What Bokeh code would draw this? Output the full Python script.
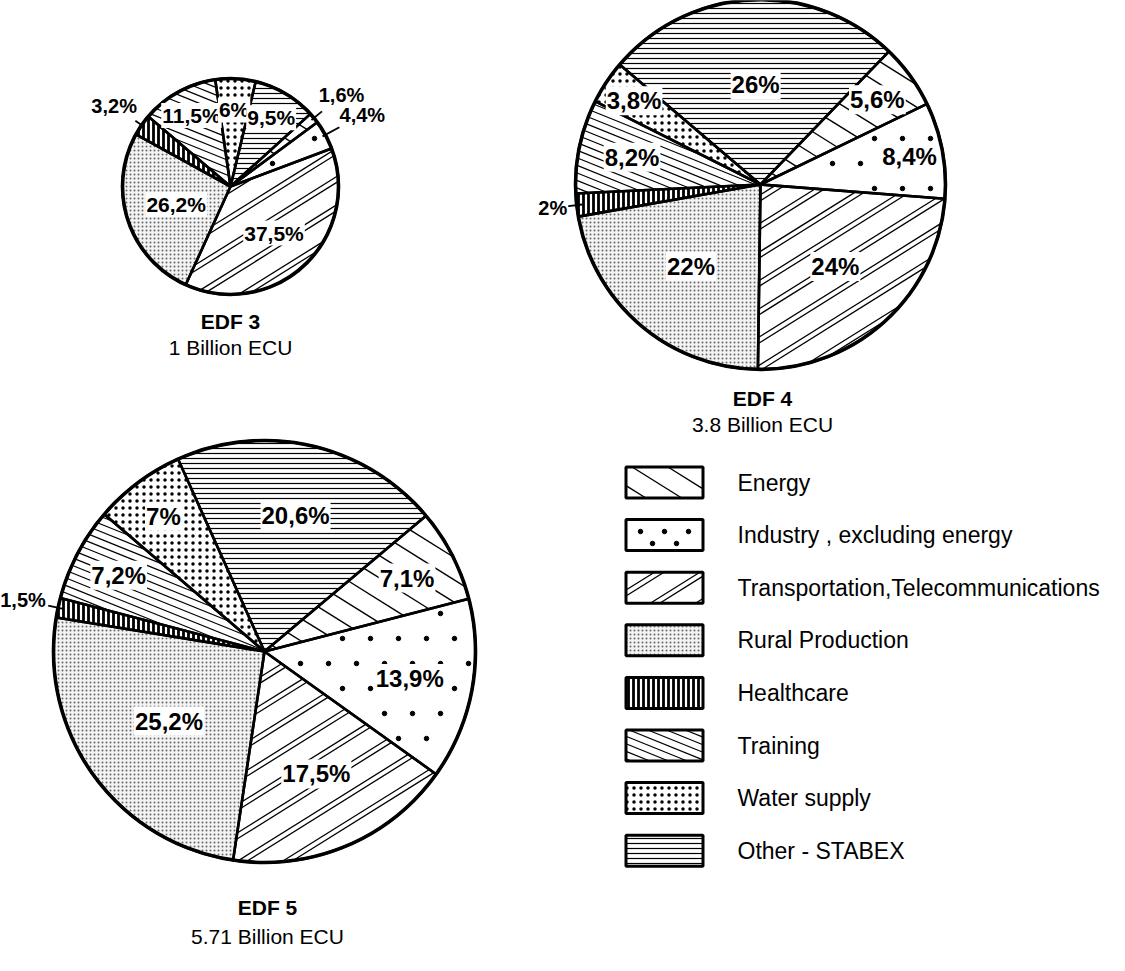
import math
from bokeh.plotting import figure
from bokeh.models import Range1d, ColumnDataSource
from bokeh.core.properties import value
from bokeh.embed import file_html
from bokeh.resources import INLINE

# ---------------- data ----------------
categories = ["Energy", "Industry , excluding energy", "Transportation,Telecommunications",
              "Rural Production", "Healthcare", "Training", "Water supply", "Other - STABEX"]
edf3_values = [1.6, 4.4, 37.5, 26.2, 3.2, 11.5, 6.0, 9.5]
edf4_values = [5.6, 8.4, 24.0, 22.0, 2.0, 8.2, 3.8, 26.0]
edf5_values = [7.1, 13.9, 17.5, 25.2, 1.5, 7.2, 7.0, 20.6]
pie_titles = ["EDF 3", "EDF 4", "EDF 5"]
pie_subtitles = ["1 Billion ECU", "3.8 Billion ECU", "5.71 Billion ECU"]

# ---------------- style ----------------
H = 971  # reference page height: y data = H - screen y

# built-in hatches (blank where a drawn texture is used instead)
hatch_pattern = [" ", " ", " ", ".", "|", " ", ".", "-"]
hatch_scale = [10, 10, 10, 4, 5, 10, 7, 5]
hatch_weight = [1.0, 1.0, 1.0, 1.0, 2.8, 1.0, 1.0, 1.2]
hatch_color = ["black", "black", "black", "#666666", "black", "black", "black", "black"]
fill_color = ["white", "white", "white", "#f3f3f3", "white", "white", "white", "white"]
# drawn textures: ("lines", angle_deg, period, pair_gap, width) or ("dots", dx, dy, size)
textures = [("lines", -32, 19, None, 1.4),
            ("dots", 28, 25, 4.5),
            ("lines", 32, 24, 5, 1.3),
            None, None,
            ("lines", -22, 7, None, 1.2),
            None, None]
legend_dots = ("dots", 24, 12, 4.5)
slice_order = [7, 0, 1, 2, 3, 4, 5, 6]  # clockwise from the start angle

pies = [
    dict(values=edf3_values, cx=238, cy=194, r=108, start=13.5, fs=21, fs_out=20,
         lab_r=[1.33, 1.39, 0.59, 0.53, 1.31, 0.75, 0.71, 0.74],
         tx=238, ty=329, sy=355),
    dict(values=edf4_values, cx=768, cy=192, r=185, start=-49.6, fs=24, fs_out=20,
         lab_r=[0.78, 0.82, 0.60, 0.58, 1.13, 0.71, 0.82, 0.54],
         tx=770, ty=406, sy=432),
    dict(values=edf5_values, cx=272, cy=659, r=211, start=-24.2, fs=24, fs_out=20,
         lab_r=[0.76, 0.70, 0.63, 0.56, 1.17, 0.78, 0.80, 0.66],
         tx=275, ty=915, sy=944),
]

p = figure(width=1109, height=955, x_range=Range1d(8, 1117), y_range=Range1d(8, 963),
           output_backend="svg", toolbar_location=None, min_border=0,
           x_axis_type=None, y_axis_type=None)
p.grid.visible = False
p.outline_line_color = None
p.background_fill_color = "white"


def fmt(v):
    return ("%g" % v).replace(".", ",") + "%"


def clip(p0x, p0y, ux, uy, halfplanes, disk):
    lo, hi = -1e9, 1e9
    for (a, b, c) in halfplanes:
        g0 = a * p0x + b * p0y - c
        g1 = a * ux + b * uy
        if abs(g1) < 1e-12:
            if g0 < 0:
                return None
            continue
        t = -g0 / g1
        if g1 > 0:
            lo = max(lo, t)
        else:
            hi = min(hi, t)
    if disk is not None:
        dcx, dcy, dr = disk
        wx, wy = p0x - dcx, p0y - dcy
        bu = wx * ux + wy * uy
        D = bu * bu - (wx * wx + wy * wy - dr * dr)
        if D <= 0:
            return None
        s = math.sqrt(D)
        lo = max(lo, -bu - s)
        hi = min(hi, -bu + s)
    if hi - lo < 1:
        return None
    return (p0x + lo * ux, p0y + lo * uy, p0x + hi * ux, p0y + hi * uy)


def texture_marks(tex, halfplanes, disk, center, R, segs, dots):
    if tex is None:
        return
    if tex[0] == "lines":
        _, ang, period, gap, w = tex
        ux, uy = math.cos(math.radians(ang)), math.sin(math.radians(ang))
        nx, ny = -uy, ux
        cc = nx * center[0] + ny * center[1]
        for phase in ([0] if gap is None else [0, gap]):
            k0 = int(math.floor((cc - R - phase) / period))
            k1 = int(math.ceil((cc + R - phase) / period))
            for k in range(k0, k1 + 1):
                c = k * period + phase
                sg = clip(c * nx, c * ny, ux, uy, halfplanes, disk)
                if sg:
                    segs["x0"].append(sg[0]); segs["y0"].append(sg[1])
                    segs["x1"].append(sg[2]); segs["y1"].append(sg[3])
                    segs["w"].append(w)
    else:
        _, sx, sy, size = tex
        margin = size
        j0 = int(math.floor((center[1] - R) / sy))
        j1 = int(math.ceil((center[1] + R) / sy))
        for j in range(j0, j1 + 1):
            y = j * sy
            off = (j % 2) * sx / 2.0
            i0 = int(math.floor((center[0] - R - off) / sx))
            i1 = int(math.ceil((center[0] + R - off) / sx))
            for i in range(i0, i1 + 1):
                x = i * sx + off
                ok = all(a * x + b * y - c >= margin for (a, b, c) in halfplanes)
                if ok and disk is not None:
                    ok = math.hypot(x - disk[0], y - disk[1]) <= disk[2] - margin
                if ok:
                    dots["x"].append(x); dots["y"].append(y); dots["s"].append(size)


def new_acc():
    return dict(x0=[], y0=[], x1=[], y1=[], w=[]), dict(x=[], y=[], s=[])


for pie in pies:
    vals = pie["values"]
    total = sum(vals)
    cx, cy, r = pie["cx"], H - pie["cy"], pie["r"]
    starts, ends, mids = [0.0] * 8, [0.0] * 8, [0.0] * 8
    a = pie["start"]
    for k in slice_order:
        a0 = a
        a1 = a + vals[k] / total * 360.0
        starts[k] = math.radians(90 - a1)
        ends[k] = math.radians(90 - a0)
        mids[k] = math.radians(90 - (a0 + a1) / 2)
        a = a1
    src = ColumnDataSource(dict(
        x=[cx] * 8, y=[cy] * 8, sa=starts, ea=ends,
        hp=hatch_pattern, hs=hatch_scale, hw=hatch_weight, hc=hatch_color, fc=fill_color))
    p.wedge(x="x", y="y", radius=r, start_angle="sa", end_angle="ea", source=src,
            fill_color="fc", hatch_pattern="hp", hatch_scale="hs", hatch_weight="hw",
            hatch_color="hc", line_color=None)

    segs, dots = new_acc()
    for k in range(8):
        sa, ea = starts[k], ends[k]
        hp1 = (-math.sin(sa), math.cos(sa))
        hp2 = (math.sin(ea), -math.cos(ea))
        halfplanes = [(hp1[0], hp1[1], hp1[0] * cx + hp1[1] * cy),
                      (hp2[0], hp2[1], hp2[0] * cx + hp2[1] * cy)]
        texture_marks(textures[k], halfplanes, (cx, cy, r), (cx, cy), r, segs, dots)
    p.segment(x0="x0", y0="y0", x1="x1", y1="y1", line_width="w", line_color="black",
              source=ColumnDataSource(segs))
    p.scatter(x="x", y="y", size="s", marker="circle", color="black",
              source=ColumnDataSource(dots))

    p.wedge(x="x", y="y", radius=r, start_angle="sa", end_angle="ea", source=src,
            fill_color=None, line_color="black", line_width=2.6)
    p.circle(x=[cx], y=[cy], radius=r, fill_color=None, line_color="black", line_width=3.6)

    lx, ly, lt, lfs = [], [], [], []
    sx0, sy0, sx1, sy1 = [], [], [], []
    for k in range(8):
        f = pie["lab_r"][k]
        m = mids[k]
        t = fmt(vals[k])
        lx.append(cx + f * r * math.cos(m))
        ly.append(cy + f * r * math.sin(m))
        lt.append(t)
        if f > 1.0:
            fs = pie["fs_out"]
            lfs.append("%dpx" % fs)
            half = len(t) * fs * 0.29
            d0 = r * 0.97
            d1 = f * r - half * abs(math.cos(m)) - fs * 0.5 * abs(math.sin(m)) - 1
            sx0.append(cx + d0 * math.cos(m)); sy0.append(cy + d0 * math.sin(m))
            sx1.append(cx + d1 * math.cos(m)); sy1.append(cy + d1 * math.sin(m))
        else:
            lfs.append("%dpx" % pie["fs"])
    if sx0:
        p.segment(x0=sx0, y0=sy0, x1=sx1, y1=sy1, line_color="black", line_width=1.8)
    lsrc = ColumnDataSource(dict(x=lx, y=ly, t=lt, fs=lfs))
    p.text(x="x", y="y", text="t", text_font_size="fs", source=lsrc,
           text_align="center", text_baseline="middle",
           text_font=value("Liberation Sans"), text_font_style="bold", text_color="black",
           background_fill_color="white", padding=1)

# titles
p.text(x=[pie["tx"] for pie in pies], y=[H - pie["ty"] for pie in pies], text=pie_titles,
       text_align="center", text_baseline="middle", text_font=value("Liberation Sans"),
       text_font_style="bold", text_font_size="21px", text_color="black")
p.text(x=[pie["tx"] for pie in pies], y=[H - pie["sy"] for pie in pies], text=pie_subtitles,
       text_align="center", text_baseline="middle", text_font=value("Liberation Sans"),
       text_font_size="21px", text_color="black")

# legend
LX, LW, LH = 672, 77, 31
ly = [H - (490 + i * 52.6) for i in range(len(categories))]
p.rect(x=[LX] * 8, y=ly, width=LW, height=LH, fill_color=fill_color,
       hatch_pattern=hatch_pattern, hatch_scale=hatch_scale, hatch_weight=hatch_weight,
       hatch_color=hatch_color, line_color=None)
segs, dots = new_acc()
for k in range(8):
    y = ly[k]
    halfplanes = [(1, 0, LX - LW / 2), (-1, 0, -(LX + LW / 2)),
                  (0, 1, y - LH / 2), (0, -1, -(y + LH / 2))]
    tex = textures[k]
    if tex is not None and tex[0] == "dots":
        tex = legend_dots
    texture_marks(tex, halfplanes, None, (LX, y), 50, segs, dots)
p.segment(x0="x0", y0="y0", x1="x1", y1="y1", line_width="w", line_color="black",
          source=ColumnDataSource(segs))
p.scatter(x="x", y="y", size="s", marker="circle", color="black", source=ColumnDataSource(dots))
p.rect(x=[LX] * 8, y=ly, width=LW, height=LH, fill_color=None, line_color="black", line_width=3)
p.text(x=[745] * 8, y=ly, text=categories, text_align="left", text_baseline="middle",
       text_font=value("Liberation Sans"), text_font_size="23px", text_color="black")

open("out.html", "w").write(file_html(p, INLINE))
